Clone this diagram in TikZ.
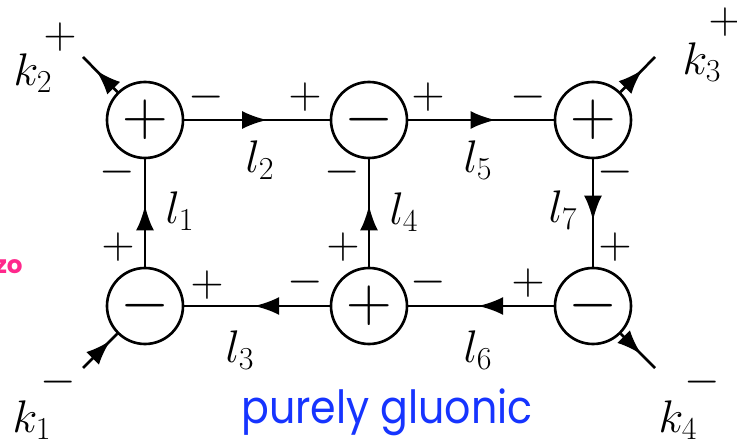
\RequirePackage{fix-cm}
\documentclass[tikz,border=0pt]{standalone}
\usepackage{fontspec}
\newfontfamily\slidefont{Poppins}
\usetikzlibrary{arrows.meta,decorations.markings}
\definecolor{gluonblue}{RGB}{22,52,255}
\definecolor{slidepink}{RGB}{255,40,140}

\begin{document}
\begin{tikzpicture}[
      every node/.style={font=\fontsize{26}{30}\selectfont},
      vtx/.style={draw, circle, line width=1.5pt, minimum size=1.52cm, inner sep=0pt, font=\fontsize{36}{40}\selectfont},
      prop/.style={line width=1.5pt, decoration={markings, mark=at position #1 with {\arrow{Latex[length=5mm,width=3.6mm]}}}, postaction={decorate}},
      prop/.default=0.57,
      sgn/.style={inner sep=0pt}
    ]
      \useasboundingbox (0,0) rectangle (14.74,8.86);
      % vertices
      \node[vtx] (tl) at (2.9,6.46) {$+$};
      \node[vtx] (tm) at (7.38,6.46) {$-$};
      \node[vtx] (tr) at (11.86,6.46) {$+$};
      \node[vtx] (bl) at (2.9,2.74) {$-$};
      \node[vtx] (bm) at (7.38,2.74) {$+$};
      \node[vtx] (br) at (11.86,2.74) {$-$};
      % external legs
      \coordinate (e1) at (1.66,1.5);
      \coordinate (e2) at (1.66,7.72);
      \coordinate (e3) at (13.1,7.72);
      \coordinate (e4) at (13.1,1.5);
      \draw[prop=0.8] (e1) -- (bl);
      \draw[prop=0.62] (tl) -- (e2);
      \draw[prop=0.64] (tr) -- (e3);
      \draw[prop=0.6] (br) -- (e4);
      % loop momenta
      \draw[prop] (bl) -- (tl);
      \draw[prop] (tl) -- (tm);
      \draw[prop=0.52] (bm) -- (bl);
      \draw[prop] (bm) -- (tm);
      \draw[prop=0.6] (tm) -- (tr);
      \draw[prop=0.52] (br) -- (bm);
      \draw[prop] (tr) -- (br);
      % labels
      \node (k1) at (0.64,0.46) {$k_1$};
      \node (k2) at (0.66,7.4) {$k_2$};
      \node (k3) at (14.04,7.62) {$k_3$};
      \node (k4) at (13.56,0.46) {$k_4$};
      \node[sgn] (h1) at (1.16,1.22) {$-$};
      \node[sgn] (h2) at (1.2,8.12) {$+$};
      \node[sgn] (h3) at (14.5,8.42) {$+$};
      \node[sgn] (h4) at (14.04,1.22) {$-$};
      \node (l1) at (3.6,4.64) {$l_1$};
      \node (l2) at (5.2,5.66) {$l_2$};
      \node (l3) at (4.8,1.86) {$l_3$};
      \node (l4) at (8.08,4.62) {$l_4$};
      \node (l5) at (9.56,5.66) {$l_5$};
      \node (l6) at (9.56,1.86) {$l_6$};
      \node (l7) at (11.26,4.66) {$l_7$};
      % helicities
      \node[sgn] at (4.12,6.92) {$-$};
      \node[sgn] at (2.34,5.42) {$-$};
      \node[sgn] at (6.1,6.92) {$+$};
      \node[sgn] at (8.56,6.92) {$+$};
      \node[sgn] at (6.84,5.42) {$-$};
      \node[sgn] at (10.56,6.92) {$-$};
      \node[sgn] at (12.3,5.42) {$-$};
      \node[sgn] at (2.36,3.92) {$+$};
      \node[sgn] at (4.14,3.16) {$+$};
      \node[sgn] at (6.86,3.92) {$+$};
      \node[sgn] at (6.1,3.22) {$-$};
      \node[sgn] at (8.56,3.22) {$-$};
      \node[sgn] at (10.56,3.2) {$+$};
      \node[sgn] at (12.3,3.92) {$+$};
      % slide text
      \node[font=\slidefont\fontsize{26}{30}\selectfont, text=gluonblue, xscale=0.9] (cap) at (7.74,0.62) {purely gluonic};
      \node[font=\slidefont\bfseries\fontsize{14}{16}\selectfont, text=slidepink, anchor=east, inner sep=0pt] (cut) at (0.46,3.52) {zo};
    \end{tikzpicture}
\end{document}
